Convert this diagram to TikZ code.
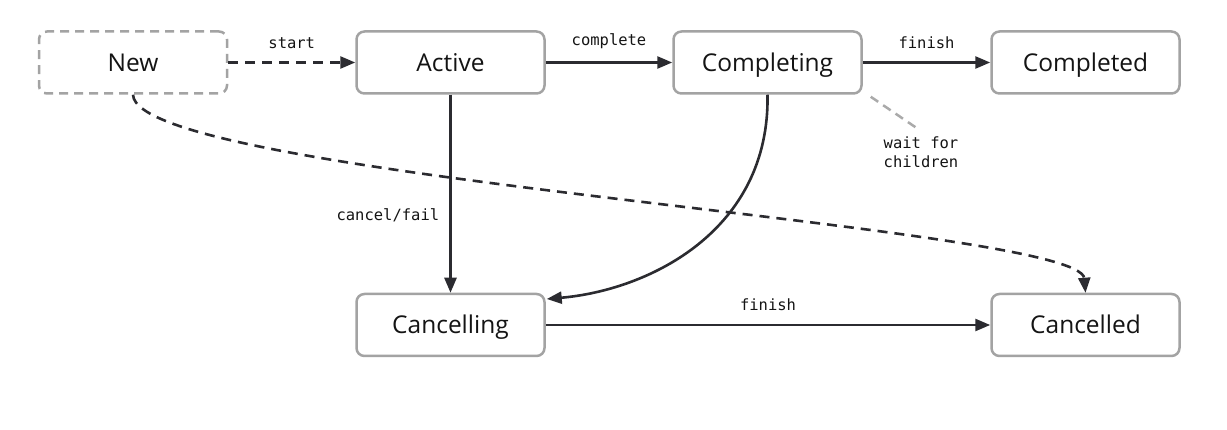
\documentclass[tikz,border=0pt]{standalone}
\usepackage{fontspec}
\setmainfont{Open Sans}
\newfontfamily\labelfont{DejaVu Sans Mono}
\usetikzlibrary{arrows.meta}
\definecolor{ink}{HTML}{2B2B30}
\definecolor{frame}{HTML}{A3A3A3}
\definecolor{note}{HTML}{AAAAAA}
\begin{document}
\begin{tikzpicture}[x=1pt,y=-1pt,
  state/.style={draw=frame, line width=2.5pt, rounded corners=8pt, fill=white,
    minimum width=188pt, minimum height=62pt, inner sep=0pt,
    text height=17.5pt, text depth=0pt,
    font=\fontsize{24.5}{28}\selectfont, text=black!92},
  ghost/.style={state, dash pattern=on 9pt off 6pt},
  trans/.style={draw=ink, line width=2.6pt, -{Triangle[length=15pt,width=12pt]}},
  dashtrans/.style={trans, dash pattern=on 10pt off 7pt},
  lbl/.style={font=\labelfont\fontsize{15.5}{19}\selectfont, text=black!92, inner sep=0pt},
]
\useasboundingbox (0,0) rectangle (1227,430);

% states
\node[ghost] (new)        at (133,62.5)    {New};
\node[state] (active)     at (450.5,62.5)  {Active};
\node[state] (completing) at (767.5,62.5)  {Completing};
\node[state] (completed)  at (1085.5,62.5) {Completed};
\node[state] (cancelling) at (450.5,325)   {Cancelling};
\node[state] (cancelled)  at (1085.5,325)  {Cancelled};

% annotation
\node[lbl, align=center] (waitnote) at (921,152) {wait for\\children};
\draw[draw=note, line width=2.5pt, dash pattern=on 9pt off 6pt]
  ([xshift=8pt,yshift=-2pt]completing.south east) -- ([xshift=-1pt,yshift=6pt]waitnote.north);

% transitions
\draw[dashtrans] (new.east) -- node[lbl, above=12pt] {start} (active.west);
\draw[trans] (active.east) -- node[lbl, above=12pt] {complete} (completing.west);
\draw[trans] (completing.east) -- node[lbl, above=12pt] {finish} (completed.west);
\draw[trans] (active.south) -- node[lbl, pos=0.61, left=10pt] {cancel/fail} (cancelling.north);
\draw[trans] (cancelling.east) -- node[lbl, above=13pt] {finish} (cancelled.west);
\draw[trans] (completing.south) .. controls (770,230) and (650,290) .. ([yshift=26pt,xshift=1pt]cancelling.east);
\draw[dashtrans] (new.south) .. controls (136,178) and (1080,225) .. (cancelled.north);
\end{tikzpicture}
\end{document}
